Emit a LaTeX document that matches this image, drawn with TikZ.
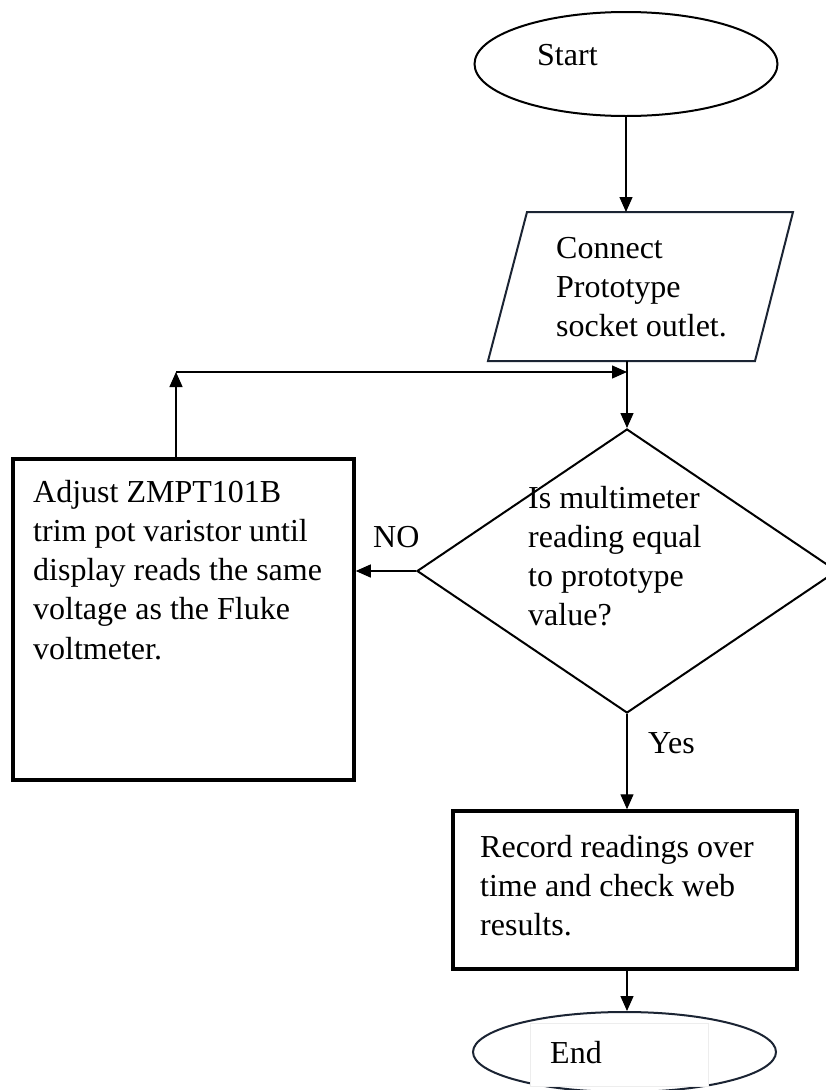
\documentclass[tikz,border=0pt]{standalone}
\usepackage{fontspec}
\setmainfont{Liberation Serif}
\usetikzlibrary{arrows.meta,shapes.geometric}
\definecolor{navy}{HTML}{1B2433}
\newcommand{\lines}[1]{\begin{tabular}[t]{@{}l@{}}#1\end{tabular}}
\begin{document}
\begin{tikzpicture}[x=1pt,y=-1pt,
  arr/.style={line width=1.3pt,-{Triangle[length=15pt,width=13pt]}},
  txt/.style={inner sep=0pt,anchor=base west,font=\fontsize{32}{39.3}\selectfont},
  term/.style={ellipse,draw,line width=2pt,inner sep=0pt},
  proc/.style={rectangle,draw,line width=3.5pt,inner sep=0pt},
  dec/.style={diamond,draw,line width=2pt,inner sep=0pt}]
\useasboundingbox (0,0) rectangle (825,1090);
\fill[white] (0,0) rectangle (825,1090);
% Start
\node[term,minimum width=303,minimum height=104] (start) at (626,64) {};
\node[txt] (starttxt) at (537,65) {Start};
% Parallelogram
\coordinate (ptl) at (527,212);
\coordinate (ptr) at (793,212);
\coordinate (pbr) at (755,361);
\coordinate (pbl) at (488,361);
\coordinate (conntop) at (626,212);
\coordinate (connbot) at (627,361);
\draw[navy,line width=2pt,line join=miter] (ptl) -- (ptr) -- (pbr) -- (pbl) -- cycle;
\node[txt] (conntxt) at (556,258) {\lines{Connect\\Prototype\\socket outlet.}};
% Decision
\node[dec,minimum width=420,minimum height=284] (dec) at (627,571) {};
\node[txt] (dectxt) at (528,508) {\lines{Is multimeter\\reading equal\\to prototype\\value?}};
% Adjust
\node[proc,minimum width=341,minimum height=321] (adjust) at (183.5,619.5) {};
\node[txt] (adjtxt) at (33,502) {\lines{Adjust ZMPT101B\\trim pot varistor until\\display reads the same\\voltage as the Fluke\\voltmeter.}};
% Record
\node[proc,minimum width=344,minimum height=158] (rec) at (625,890) {};
\node[txt] (rectxt) at (480,857) {\lines{Record readings over\\time and check web\\results.}};
% End
\node[term,draw=navy,minimum width=303,minimum height=80] (end) at (624.5,1052) {};
\node[draw=black!7,fill=white,line width=0.6pt,minimum width=178,minimum height=63,inner sep=0pt] (endbox) at (619,1054.5) {};
\node[txt] (endtxt) at (550,1063) {End};
% Loop coordinates
\coordinate (junction) at (627,372);
\coordinate (corner) at (176,372);
% Connectors
\draw[arr] (start.south) -- (conntop);
\draw[arr] (connbot) -- (dec.north);
\draw[arr] (corner |- adjust.north) -- (corner);
\draw[arr] (corner) -- (junction);
\draw[arr] (dec.west) -- (dec.west -| adjust.east);
\node[txt] (nolbl) at (373,547) {NO};
\draw[arr] (dec.south) -- (dec.south |- rec.north);
\node[txt] (yeslbl) at (648,753) {Yes};
\draw[arr] (dec.south |- rec.south) -- (dec.south |- end.north);
\end{tikzpicture}
\end{document}
